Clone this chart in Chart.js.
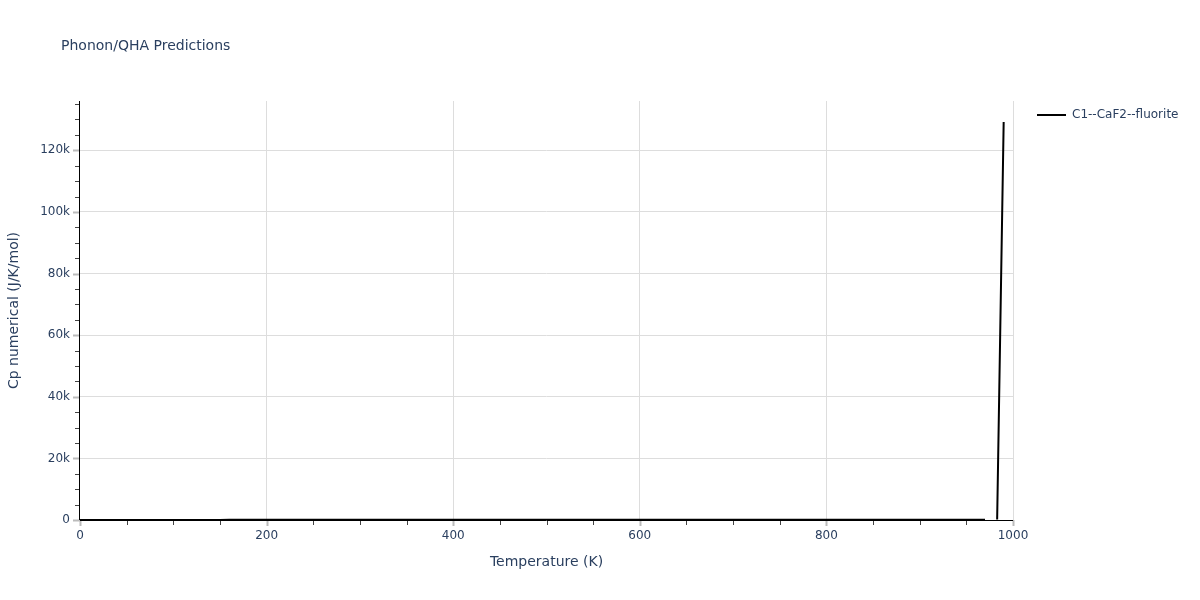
<!DOCTYPE html>
<html><head><meta charset="utf-8">
<script src="https://cdn.jsdelivr.net/npm/chart.js@4.4.0/dist/chart.umd.min.js"></script>
<style>html,body{margin:0;padding:0;background:#fff}#wrap{width:1200px;height:600px;position:relative}</style>
</head><body><div id="wrap"><canvas id="c" width="1200" height="600"></canvas></div>
<script>
const chartTitle = "Phonon/QHA Predictions";
const seriesName = "C1--CaF2--fluorite";
const xTitle = "Temperature (K)";
const yTitle = "Cp numerical (J/K/mol)";
const temps = [0,10,20,30,40,50,60,70,80,90,100,110,120,130,140,150,160,170,180,190,200,210,220,230,240,250,260,270,280,290,300,310,320,330,340,350,360,370,380,390,400,410,420,430,440,450,460,470,480,490,500,510,520,530,540,550,560,570,580,590,600,610,620,630,640,650,660,670,680,690,700,710,720,730,740,750,760,770,780,790,800,810,820,830,840,850,860,870,880,890,900,910,920,930,940,950,960,970,975,983,990];
const cp = [0,0.1,0.6,2.1,4.3,7.2,10.6,14.2,17.9,21.5,25,28.2,31.2,34,36.6,39,41.1,43,44.8,46.4,47.9,49.2,50.4,51.5,52.5,53.4,54.3,55,55.7,56.4,57,57.5,58,58.5,58.9,59.3,59.7,60.1,60.4,60.7,61,61.3,61.6,61.8,62.1,62.3,62.6,62.8,63,63.2,63.4,63.6,63.8,64,64.2,64.4,64.6,64.8,65,65.2,65.4,65.6,65.8,66,66.2,66.4,66.7,66.9,67.2,67.4,67.7,68,68.3,68.6,69,69.3,69.7,70.1,70.5,71,71.5,72,72.6,73.2,73.9,74.6,75.4,76.3,77.3,78.4,79.7,81.2,83,85.1,87.7,91,95.5,102,null,150,129200];
const xMin = 0, xMax = 1000, xTickStep = 200, xMinorStep = 50;
const yMin = 0, yMax = 136000, yTickStep = 20000, yMinorStep = 5000;
const lineColor = "#000000";
const textColor = "#2a3f5f";

const pts = temps.map((t,i)=>({x:t,y:cp[i]}));
const FONT = "'DejaVu Sans', Verdana, sans-serif";

const overlay = {
  id:'overlay',
  afterDraw(chart){
    const ctx = chart.ctx;
    const xs = chart.scales.x, ys = chart.scales.y;
    const area = chart.chartArea;
    ctx.save();
    // tick marks (outside)
    for (let v = xMin; v <= xMax; v += xMinorStep) {
      const px = Math.round(xs.getPixelForValue(v)) + 0.5;
      const major = v % xTickStep === 0;
      ctx.strokeStyle = major ? '#bbbbbb' : '#444444';
      ctx.lineWidth = major ? 2 : 1;
      ctx.beginPath(); ctx.moveTo(px, area.bottom); ctx.lineTo(px, area.bottom + (major ? 6 : 5)); ctx.stroke();
    }
    for (let v = yMin; v <= yMax; v += yMinorStep) {
      const py = Math.round(ys.getPixelForValue(v)) + 0.5;
      const major = v % yTickStep === 0;
      ctx.strokeStyle = major ? '#bbbbbb' : '#444444';
      ctx.lineWidth = major ? 2 : 1;
      ctx.beginPath(); ctx.moveTo(area.left, py); ctx.lineTo(area.left - (major ? 7 : 5), py); ctx.stroke();
    }
    // axis lines
    ctx.strokeStyle = '#000'; ctx.lineWidth = 1;
    ctx.beginPath(); ctx.moveTo(area.left - 0.5, area.top); ctx.lineTo(area.left - 0.5, area.bottom); ctx.stroke();
    ctx.beginPath(); ctx.moveTo(area.left, area.bottom + 0.5); ctx.lineTo(area.right, area.bottom + 0.5); ctx.stroke();
    // title
    ctx.fillStyle = textColor;
    ctx.font = "14px " + FONT;
    ctx.textBaseline = 'middle';
    ctx.textAlign = 'left';
    ctx.fillText(chartTitle, 61, 46);
    // legend
    ctx.strokeStyle = lineColor;
    ctx.lineWidth = 2;
    ctx.beginPath(); ctx.moveTo(1037,115); ctx.lineTo(1066,115); ctx.stroke();
    ctx.font = "12px " + FONT;
    ctx.fillText(seriesName, 1072, 115);
    ctx.restore();
  }
};

new Chart(document.getElementById('c'), {
  type:'line',
  data:{datasets:[{label:seriesName,data:pts,borderColor:lineColor,backgroundColor:lineColor,borderWidth:2,pointRadius:0,tension:0,spanGaps:false}]},
  options:{
    responsive:false,animation:false,
    layout:{padding:{left:0,top:101,right:187,bottom:0}},
    plugins:{legend:{display:false},title:{display:false},tooltip:{enabled:false}},
    scales:{
      x:{type:'linear',min:xMin,max:xMax,
        afterFit(s){s.height=80;},
        afterBuildTicks(s){s.ticks=[];for(let v=xMin;v<=xMax;v+=xTickStep)s.ticks.push({value:v});},
        ticks:{color:textColor,font:{size:12,family:FONT},padding:9,maxRotation:0,autoSkip:false,
          callback:(v)=> String(v)},
        grid:{color:(c)=> (c.tick && c.tick.value!==xMin)?'#dddddd':'rgba(0,0,0,0)',drawTicks:false,lineWidth:1},
        border:{display:false},
        title:{display:true,text:xTitle,color:textColor,font:{size:14,family:FONT},padding:{top:4,bottom:29}}
      },
      y:{type:'linear',min:yMin,max:yMax,
        afterFit(s){s.width=80;},
        afterBuildTicks(s){s.ticks=[];for(let v=yMin;v<=yMax;v+=yTickStep)s.ticks.push({value:v});},
        ticks:{color:textColor,font:{size:12,family:FONT},padding:10,autoSkip:false,
          callback:(v)=> v===0?'0':(v/1000)+'k'},
        grid:{color:(c)=> (c.tick && c.tick.value!==yMin)?'#dddddd':'rgba(0,0,0,0)',drawTicks:false,lineWidth:1},
        border:{display:false},
        title:{display:true,text:yTitle,color:textColor,font:{size:14,family:FONT},padding:{top:6,bottom:6}}
      }
    }
  },
  plugins:[overlay]
});
</script></body></html>
